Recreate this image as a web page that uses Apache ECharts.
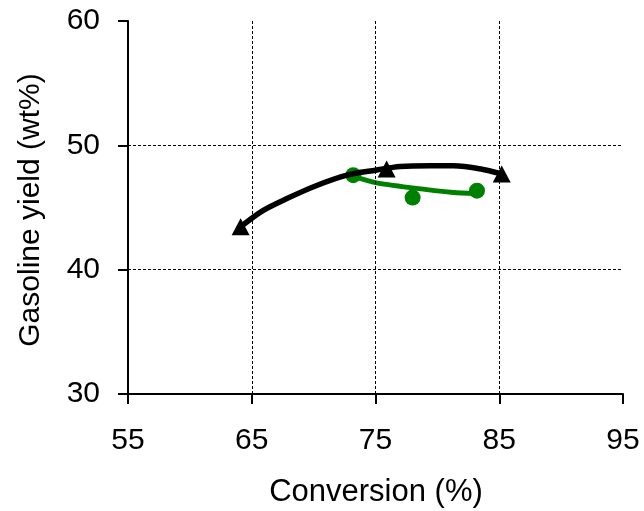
<!DOCTYPE html>
<html>
<head>
<meta charset="utf-8">
<script src="https://cdn.jsdelivr.net/npm/echarts@6/dist/echarts.min.js"></script>
<style>
html,body{margin:0;padding:0;background:#fff;}
#chart{width:644px;height:511px;}
</style>
</head>
<body>
<div id="chart"></div>
<script>
// ---- data ----
const xTitle = 'Conversion (%)';
const yTitle = 'Gasoline yield (wt%)';
const xTicks = [55, 65, 75, 85, 95];
const yTicks = [30, 40, 50, 60];
const gridX = [65, 75, 85];
const gridY = [40, 50];

// black fitted curve and its data points (triangles)
const blackCurveX = [64.1, 65.9, 67.8, 70.2, 72.7, 75.0, 77.0, 79.5, 81.3, 83.5, 85.2];
const blackCurveY = [43.45, 44.75, 45.7, 46.75, 47.6, 48.0, 48.3, 48.35, 48.35, 48.1, 47.7];
const blackPtsX = [64.1, 75.9, 85.2];
const blackPtsY = [43.45, 48.1, 47.7];

// green fitted line and its data points (circles)
const greenCurveX = [73.2, 75.0, 77.8, 81.3, 83.2];
const greenCurveY = [47.5, 47.0, 46.6, 46.2, 46.1];
const greenPtsX = [73.2, 78.0, 83.2];
const greenPtsY = [47.6, 45.8, 46.35];

const zip = (a, b) => a.map((v, i) => [v, b[i]]);
const FONT = '"Liberation Sans", Arial, sans-serif';

const chart = echarts.init(document.getElementById('chart'), null, {renderer: 'canvas'});
chart.setOption({
  animation: false,
  backgroundColor: '#fff',
  grid: {left: 128, right: 21, top: 21, bottom: 117, containLabel: false},
  xAxis: {
    type: 'value', min: xTicks[0], max: xTicks[xTicks.length - 1], interval: 10,
    axisLine: {show: true, onZero: false, lineStyle: {color: '#000', width: 2}},
    axisTick: {show: true, inside: false, length: 10, lineStyle: {color: '#000', width: 2}},
    axisLabel: {color: '#000', fontSize: 30, fontFamily: FONT, margin: 32},
    splitLine: {show: false}
  },
  yAxis: {
    type: 'value', min: yTicks[0], max: yTicks[yTicks.length - 1], interval: 10,
    axisLine: {show: true, onZero: false, lineStyle: {color: '#000', width: 2}},
    axisTick: {show: true, inside: false, length: 10, lineStyle: {color: '#000', width: 2}},
    axisLabel: {color: '#000', fontSize: 30, fontFamily: FONT, margin: 28},
    splitLine: {show: false}
  },
  graphic: [
    {type: 'text', style: {text: xTitle, font: '31px ' + FONT, fill: '#000', textAlign: 'center', textVerticalAlign: 'middle'}, x: 376, y: 492, silent: true},
    {type: 'text', style: {text: yTitle, font: '30px ' + FONT, fill: '#000', textAlign: 'center', textVerticalAlign: 'middle'}, x: 31, y: 210, rotation: Math.PI / 2, silent: true}
  ],
  series: [
    {
      type: 'line', data: [], silent: true,
      markLine: {
        silent: true, symbol: 'none', label: {show: false},
        lineStyle: {color: '#000', width: 1, type: [3, 2]},
        data: gridX.map(v => ({xAxis: v})).concat(gridY.map(v => ({yAxis: v})))
      }
    },
    {
      type: 'line', data: zip(greenCurveX, greenCurveY), showSymbol: false, smooth: 0.2,
      lineStyle: {color: '#008000', width: 5}, z: 3
    },
    {
      type: 'scatter', data: zip(greenPtsX, greenPtsY), symbol: 'circle', symbolSize: 16,
      itemStyle: {color: '#008000', opacity: 1}, z: 3
    },
    {
      type: 'line', data: zip(blackCurveX, blackCurveY), showSymbol: false, smooth: 0.3,
      lineStyle: {color: '#000', width: 5.5}, z: 4
    },
    {
      type: 'scatter', data: zip(blackPtsX, blackPtsY), symbol: 'triangle', symbolSize: [18, 17],
      itemStyle: {color: '#000', opacity: 1}, z: 4
    }
  ]
});
</script>
</body>
</html>
